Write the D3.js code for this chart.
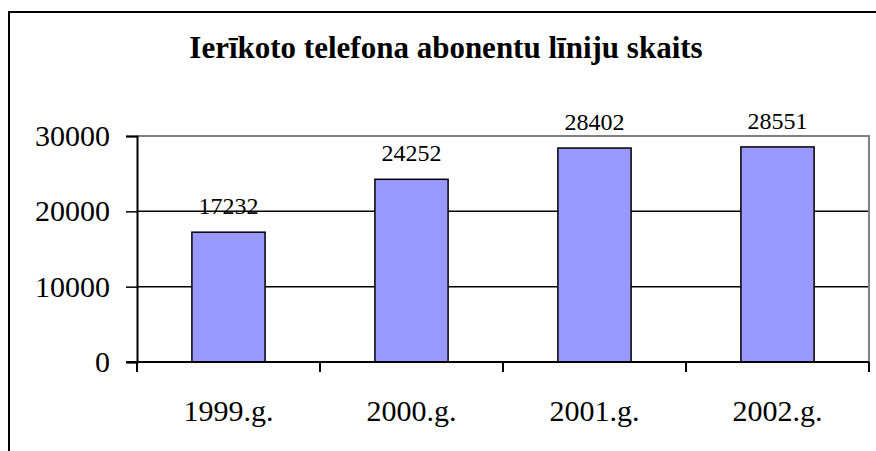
<!DOCTYPE html>
<html>
<head>
<meta charset="utf-8">
<script src="https://cdn.jsdelivr.net/npm/d3@7/dist/d3.min.js"></script>
<style>
  html, body { margin: 0; padding: 0; background: #fff; }
  svg text { font-family: "Liberation Serif", "Times New Roman", serif; fill: #000; }
</style>
</head>
<body>
<div id="chart"></div>
<script>
// chart data
const title = "Ierīkoto telefona abonentu līniju skaits"
const years = ["1999.g.", "2000.g.", "2001.g.", "2002.g."]
const lines = [17232, 24252, 28402, 28551]
const yTicks = [0, 10000, 20000, 30000]

const W = 876, H = 451
const serif = "Liberation Serif"
// plot area box
const plot = { left: 137, right: 869, top: 136, bottom: 362 }

const svg = d3.select("#chart").append("svg")
  .attr("width", W).attr("height", H)

// outer chart frame (runs off the right and bottom edge)
svg.append("rect")
  .attr("x", 9).attr("y", 12)
  .attr("width", 900).attr("height", 500)
  .attr("fill", "white").attr("stroke", "#000").attr("stroke-width", 2)

const x = d3.scaleBand()
  .domain(years)
  .range([plot.left, plot.right])
  .paddingInner(0.6).paddingOuter(0.3)

const y = d3.scaleLinear().domain([0, 30000]).range([plot.bottom, plot.top])

// gridlines (black) - skip the top one, that's the plot border
svg.selectAll(".grid")
  .data(yTicks.filter(d => d > 0 && d < 30000))
  .join("line")
  .attr("x1", plot.left).attr("x2", plot.right)
  .attr("y1", d => y(d)).attr("y2", d => y(d))
  .attr("stroke", "#000").attr("stroke-width", 1.5)

// plot area border top + right in gray
svg.append("path")
  .attr("d", `M${plot.left},${y(30000)}H${plot.right}V${plot.bottom}`)
  .attr("fill", "none").attr("stroke", "#808080").attr("stroke-width", 2)

// bars
svg.selectAll(".bar")
  .data(years)
  .join("rect")
  .attr("x", d => x(d))
  .attr("width", x.bandwidth())
  .attr("y", (d, i) => y(lines[i]))
  .attr("height", (d, i) => y(0) - y(lines[i]))
  .attr("fill", "#9999ff").attr("stroke", "#000").attr("stroke-width", 1.5)

// value labels above bars
svg.selectAll(".val")
  .data(years)
  .join("text")
  .attr("x", d => x(d) + x.bandwidth() / 2)
  .attr("y", (d, i) => y(lines[i]) - 18)
  .attr("text-anchor", "middle")
  .attr("font-family", serif)
  .style("font-size", "24px")
  .text((d, i) => lines[i])

// y axis
const yAxis = svg.append("g")
  .attr("transform", `translate(${plot.left},0)`)
  .call(d3.axisLeft(y).tickValues(yTicks).tickSize(11).tickPadding(16).tickFormat(d3.format("d")))
  .attr("font-family", serif)
yAxis.select(".domain").attr("stroke-width", 2)
yAxis.selectAll(".tick line").attr("stroke-width", 1.5)
yAxis.selectAll(".tick text")
  .attr("font-family", serif)
  .style("font-size", "30px").attr("fill", "#000")

// x axis: ticks between categories
const xAxis = svg.append("g")
  .attr("transform", `translate(0,${plot.bottom})`)
xAxis.append("line")
  .attr("x1", plot.left - 11).attr("x2", plot.right)
  .attr("stroke", "#000").attr("stroke-width", 2)
const bounds = d3.range(years.length + 1).map(i => plot.left + i * x.step())
xAxis.selectAll(".xt")
  .data(bounds)
  .join("line")
  .attr("x1", d => d).attr("x2", d => d)
  .attr("y1", 0).attr("y2", 10)
  .attr("stroke", "#000").attr("stroke-width", 2)
xAxis.selectAll(".xl")
  .data(years)
  .join("text")
  .attr("x", d => x(d) + x.bandwidth() / 2)
  .attr("y", 59)
  .attr("text-anchor", "middle")
  .attr("font-family", serif)
  .style("font-size", "30px")
  .text(d => d)

// title
svg.append("text")
  .attr("x", 446).attr("y", 58)
  .attr("text-anchor", "middle")
  .attr("font-family", serif)
  .style("font-size", "31px").style("font-weight", "bold")
  .text(title)
</script>
</body>
</html>
